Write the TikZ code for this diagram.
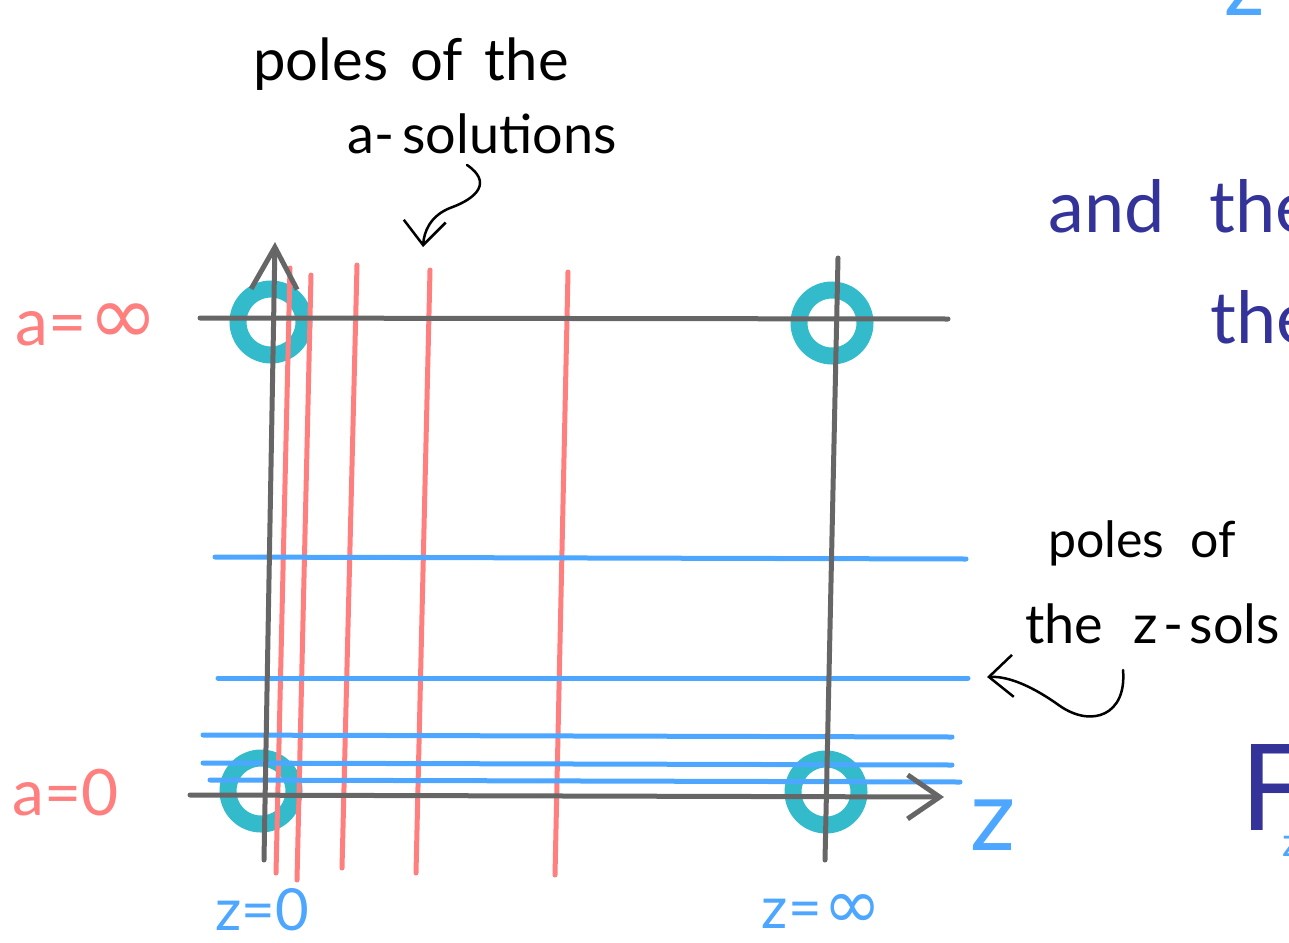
\documentclass[tikz,border=0pt]{standalone}
\usepackage{fontspec}
\setmainfont{Lato}
\newfontfamily\dvfont{DejaVu Sans}
\usetikzlibrary{arrows.meta}
\definecolor{axisgray}{HTML}{666666}
\definecolor{poleteal}{HTML}{33BBCC}
\definecolor{asolred}{HTML}{FF7F7F}
\definecolor{zsolblue}{HTML}{4DA6FF}
\definecolor{inkblue}{HTML}{333399}
\newcommand{\fs}[1]{\fontsize{#1}{#1}\selectfont}
\begin{document}
\begin{tikzpicture}[x=1pt,y=-1pt,
  axisline/.style={draw=axisgray,line width=5pt,line cap=round,line join=round},
  pole/.style={draw=poleteal,line width=17pt},
  redline/.style={draw=asolred,line width=5pt,line cap=round},
  blueline/.style={draw=zsolblue,line width=5pt,line cap=round},
  note/.style={inner sep=0pt,text=black},
  notearrow/.style={draw=black,line width=2.5pt,line cap=round,line join=round,
     -{Straight Barb[length=24pt,width=42pt,line width=2.5pt]}},
  redlabel/.style={inner sep=0pt,text=asolred},
  bluelabel/.style={inner sep=0pt,text=zsolblue},
  inklabel/.style={inner sep=0pt,text=inkblue}]
\useasboundingbox (0,0) rectangle (1289,942);
\clip (0,0) rectangle (1289,942);
% poles
\draw[pole] (271,322) circle[radius=33pt];
\draw[pole] (832,323) circle[radius=33pt];
\draw[pole] (261,791) circle[radius=33pt];
\draw[pole] (826,792) circle[radius=33pt];
% a-solution poles (red)
\draw[redline] (290,268) -- (276,873);
\draw[redline] (311,275) -- (297,880);
\draw[redline] (357,265) -- (342,868);
\draw[redline] (430,270) -- (416,873);
\draw[redline] (568,272) -- (555,875);
% z-solution poles (blue)
\draw[blueline] (215,557) -- (966,559);
\draw[blueline] (218,678) -- (968,678);
\draw[blueline] (203,735) -- (952,737);
\draw[blueline] (203,763) -- (952,765);
\draw[blueline] (210,780) -- (960,782);
% axes
\draw[axisline] (200,318) -- (948,319);
\draw[axisline] (838,258) -- (825,860);
\draw[axisline,-{Straight Barb[length=42pt,width=46pt,line width=5pt]}] (264,860) -- (275,242);
\draw[axisline,-{Straight Barb[length=32pt,width=44pt,line width=5pt]}] (190,795) -- (944,797);
% axis labels
\node[redlabel,anchor=base west] (ainf) at (15,345) {\fs{66}a=\hspace{2pt}\raisebox{1pt}{\fs{84}\dvfont ∞}};
\node[redlabel,anchor=base west] (azero) at (12,815) {\fs{64}a=0};
\node[bluelabel,anchor=base] (zzero) at (262,930) {\fs{58}z=0};
\node[bluelabel,anchor=base] (zinf) at (822,928) {\fs{58}z=\hspace{2pt}{\fs{70}\dvfont ∞}};
\node[bluelabel,anchor=base west] (zaxis) at (970,850) {\fs{100}z};
% annotations
\node[note,anchor=base] (apoles1) at (411,80) {\fs{58}poles\hspace{22pt}of\hspace{22pt}the};
\node[note,anchor=base] (apoles2) at (482,153) {\fs{54}a-\hspace{8pt}solutions};
\coordinate (atail) at (467,165);
\coordinate (atip) at (423,247);
\draw[notearrow] (atail) .. controls (492,182) and (478,198) .. (450,208)
  .. controls (430,216) and (424,232) .. (atip);
\node[note,anchor=base west] (zpoles1) at (1048,557) {\fs{50}poles\hspace{26pt}of};
\node[note,anchor=base west] (zpoles2) at (1025,643) {\fs{54}the\hspace{30pt}z\hspace{6pt}-\hspace{6pt}sols};
\coordinate (ztail) at (1123,670);
\coordinate (ztip) at (987,677);
\draw[notearrow] (ztail) .. controls (1127,715) and (1092,728) .. (1060,706)
  .. controls (1035,688) and (1010,676) .. (ztip);
% cut-off text at the right
\node[inklabel,anchor=base west] (andthe) at (1048,232) {\fs{72}and\hspace{45pt}the};
\node[inklabel,anchor=base west] (the2) at (1210,343) {\fs{72}the};
\node[inklabel,anchor=base west] (fletter) at (1240,830) {\fs{120}F};
\node[bluelabel,anchor=base west] (fsub) at (1282,856) {\fs{40}z};
\node[bluelabel,anchor=base west] (topz) at (1224,16) {\fs{90}z};
\end{tikzpicture}
\end{document}
